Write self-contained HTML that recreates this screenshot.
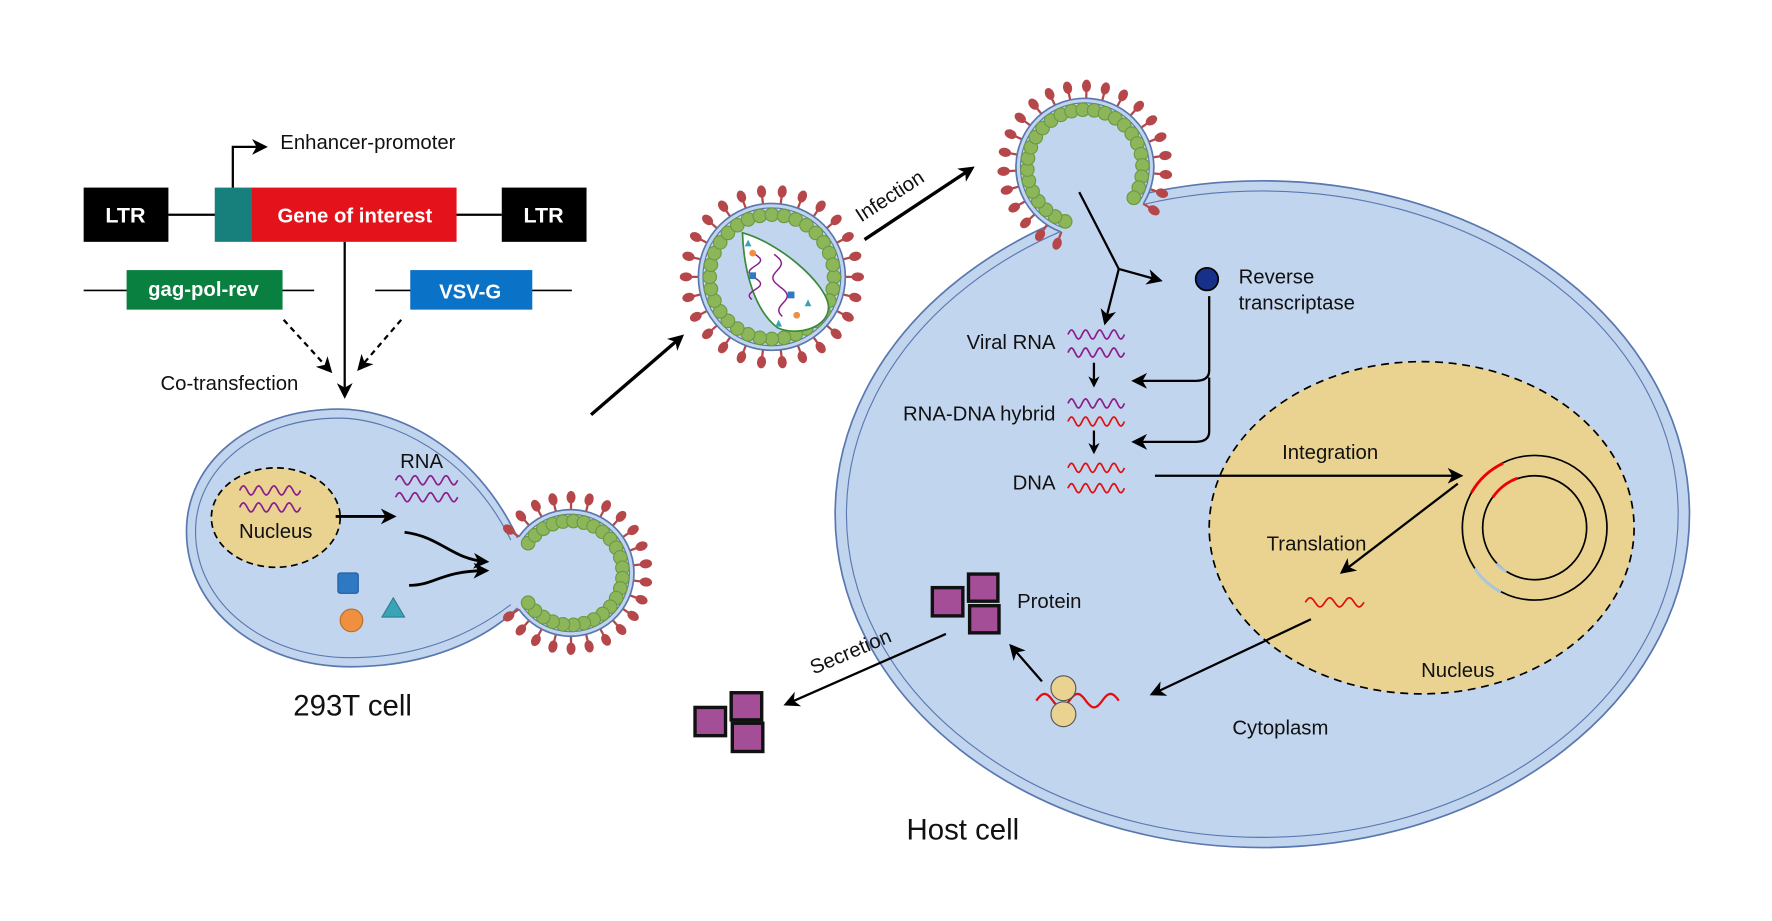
<!DOCTYPE html>
<html><head><meta charset="utf-8"><style>
html,body{margin:0;padding:0;background:#fff}
svg{display:block}
text{font-family:"Liberation Sans",sans-serif;fill:#111}
</style></head><body>
<svg id="s" width="1772" height="921" viewBox="0 0 1568 815" xmlns="http://www.w3.org/2000/svg">
<defs>
<marker id="ah" markerWidth="10" markerHeight="10" refX="8" refY="5" orient="auto" markerUnits="userSpaceOnUse" viewBox="0 0 10 10"><path d="M0,0 L10,5 L0,10 L3,5 z" fill="#000"/></marker>
<marker id="ahb" markerWidth="14" markerHeight="14" refX="11" refY="7" orient="auto" markerUnits="userSpaceOnUse" viewBox="0 0 14 14"><path d="M0,0 L14,7 L0,14 L4,7 z" fill="#000"/></marker>
</defs>
<ellipse cx="1117" cy="455" rx="378" ry="295" fill="#c2d5ee" stroke="#5a78b0" stroke-width="1.5"/>
<ellipse cx="1117" cy="455" rx="368" ry="286" fill="none" stroke="#5a78b0" stroke-width="1"/>
<g id="topv"></g>
<ellipse cx="1258" cy="467" rx="188" ry="147" fill="#ead391" stroke="#000" stroke-width="1.5" stroke-dasharray="7,5"/>
<circle cx="1358" cy="467" r="64" fill="none" stroke="#000" stroke-width="1.5"/>
<circle cx="1358" cy="467" r="46" fill="none" stroke="#000" stroke-width="1.5"/>
<path d="M1302,436 A64,64 0 0 1 1330,410" fill="none" stroke="#e00" stroke-width="2.5"/>
<path d="M1321,440 A46,46 0 0 1 1343,423" fill="none" stroke="#e00" stroke-width="2.5"/>
<path d="M1305,503 A64,64 0 0 0 1328,524" fill="none" stroke="#a9c6e0" stroke-width="2.5"/>
<path d="M1324,499 A46,46 0 0 0 1333,506" fill="none" stroke="#a9c6e0" stroke-width="2.5"/>

<path d="M458,476 C420,395 350,362 300,362 C220,362 165,410 165,470 C165,540 230,590 310,590 C380,590 430,565 458,538" fill="#c2d5ee" stroke="#5a78b0" stroke-width="1.5"/>
<path d="M452,478 C415,402 346,370 300,370 C226,370 173,415 173,470 C173,535 235,582 310,582 C375,582 422,558 452,535" fill="none" stroke="#5a78b0" stroke-width="1"/>
<g id="budv"></g>
<ellipse cx="244" cy="458" rx="57" ry="44" fill="#ead391" stroke="#000" stroke-width="1.5" stroke-dasharray="6,4"/>
<text x="244" y="476" font-size="18" text-anchor="middle">Nucleus</text>
<text x="373" y="414" font-size="18" text-anchor="middle">RNA</text>
<rect x="299" y="507" width="18" height="18" rx="2" fill="#2e78c4" stroke="#1c5c9c"/>
<circle cx="311" cy="549" r="10" fill="#ee9040" stroke="#c06a20"/>
<path d="M338,546 L348,529 L358,546 z" fill="#3aa3b5" stroke="#2a7f90"/>
<line x1="297" y1="457" x2="348" y2="457" stroke="#000" stroke-width="2.5" marker-end="url(#ahb)"/>
<path d="M358,471 C390,475 400,495 430,497" fill="none" stroke="#000" stroke-width="2.5" marker-end="url(#ahb)"/>
<path d="M362,518 C385,518 390,505 430,505" fill="none" stroke="#000" stroke-width="2.5" marker-end="url(#ahb)"/>
<text x="312" y="633" font-size="26" text-anchor="middle">293T cell</text>

<line x1="149" y1="190" x2="444" y2="190" stroke="#000" stroke-width="2"/>
<rect x="74" y="166" width="75" height="48" fill="#000"/>
<text x="111" y="197" font-size="19" font-weight="bold" text-anchor="middle" style="fill:#fff">LTR</text>
<rect x="444" y="166" width="75" height="48" fill="#000"/>
<text x="481" y="197" font-size="19" font-weight="bold" text-anchor="middle" style="fill:#fff">LTR</text>
<rect x="190" y="166" width="34" height="48" fill="#177f7c"/>
<rect x="223" y="166" width="181" height="48" fill="#e4131b"/>
<text x="314" y="197" font-size="18" font-weight="bold" text-anchor="middle" style="fill:#fff">Gene of interest</text>
<path d="M206,166 V130 H234" fill="none" stroke="#000" stroke-width="2" marker-end="url(#ahb)"/>
<text x="248" y="132" font-size="18">Enhancer-promoter</text>
<line x1="74" y1="257" x2="278" y2="257" stroke="#000" stroke-width="1.5"/>
<rect x="112" y="239" width="138" height="35" fill="#0a8040"/>
<text x="180" y="262" font-size="18" font-weight="bold" text-anchor="middle" style="fill:#fff">gag-pol-rev</text>
<line x1="332" y1="257" x2="506" y2="257" stroke="#000" stroke-width="1.5"/>
<rect x="363" y="239" width="108" height="35" fill="#0a72c7"/>
<text x="416" y="264" font-size="18" font-weight="bold" text-anchor="middle" style="fill:#fff">VSV-G</text>
<line x1="305" y1="214" x2="305" y2="350" stroke="#000" stroke-width="2" marker-end="url(#ahb)"/>
<line x1="251" y1="283" x2="292" y2="328" stroke="#000" stroke-width="2" stroke-dasharray="5,4" marker-end="url(#ahb)"/>
<line x1="355" y1="283" x2="318" y2="326" stroke="#000" stroke-width="2" stroke-dasharray="5,4" marker-end="url(#ahb)"/>
<text x="142" y="345" font-size="18">Co-transfection</text>

<g id="freev"></g>
<path d="M657,206 C690,215 730,250 733,270 C735,290 705,298 688,290 C668,275 658,240 657,206 z" fill="#fff" stroke="#3a8a3a" stroke-width="1.5"/>
<g id="inner"></g>

<line x1="523" y1="367" x2="603" y2="298" stroke="#000" stroke-width="3" marker-end="url(#ahb)"/>
<line x1="765" y1="212" x2="860" y2="149" stroke="#000" stroke-width="3" marker-end="url(#ahb)"/>
<text x="0" y="0" font-size="18" transform="translate(762,197) rotate(-33)">Infection</text>

<path d="M955,170 L990,238 L978,285" fill="none" stroke="#000" stroke-width="2" marker-end="url(#ahb)"/>
<line x1="990" y1="238" x2="1026" y2="248" stroke="#000" stroke-width="2" marker-end="url(#ahb)"/>
<circle cx="1068" cy="247" r="10" fill="#17318a" stroke="#000" stroke-width="1.5"/>
<text x="1096" y="251" font-size="18">Reverse</text>
<text x="1096" y="274" font-size="18">transcriptase</text>
<path d="M1070,262 V328 Q1070,337 1058,337 H1004" fill="none" stroke="#000" stroke-width="2" marker-end="url(#ahb)"/>
<path d="M1070,334 V382 Q1070,391 1058,391 H1004" fill="none" stroke="#000" stroke-width="2" marker-end="url(#ahb)"/>
<text x="934" y="309" font-size="18" text-anchor="end">Viral RNA</text>
<text x="934" y="372" font-size="18" text-anchor="end">RNA-DNA hybrid</text>
<text x="934" y="433" font-size="18" text-anchor="end">DNA</text>
<line x1="968" y1="321" x2="968" y2="341" stroke="#000" stroke-width="2" marker-end="url(#ah)"/>
<line x1="968" y1="381" x2="968" y2="400" stroke="#000" stroke-width="2" marker-end="url(#ah)"/>
<g id="waves"></g>
<line x1="1022" y1="421" x2="1292" y2="421" stroke="#000" stroke-width="2" marker-end="url(#ahb)"/>
<text x="1177" y="406" font-size="18" text-anchor="middle">Integration</text>
<line x1="1290" y1="428" x2="1188" y2="506" stroke="#000" stroke-width="2" marker-end="url(#ahb)"/>
<text x="1165" y="487" font-size="18" text-anchor="middle">Translation</text>
<text x="1290" y="599" font-size="18" text-anchor="middle">Nucleus</text>
<line x1="1160" y1="548" x2="1020" y2="614" stroke="#000" stroke-width="2" marker-end="url(#ahb)"/>
<text x="1133" y="650" font-size="18" text-anchor="middle">Cytoplasm</text>
<circle cx="941" cy="609" r="11" fill="#ead391" stroke="#555"/>
<circle cx="941" cy="632" r="11" fill="#ead391" stroke="#555"/>
<line x1="922" y1="603" x2="895" y2="572" stroke="#000" stroke-width="2" marker-end="url(#ahb)"/>
<g fill="#a54e98" stroke="#111" stroke-width="3">
<rect x="825" y="520" width="27" height="25"/><rect x="857" y="508" width="26" height="24"/><rect x="858" y="536" width="26" height="24"/>
<rect x="615" y="626" width="27" height="25"/><rect x="647" y="613" width="27" height="24"/><rect x="648" y="640" width="27" height="25"/>
</g>
<text x="900" y="538" font-size="18">Protein</text>
<line x1="837" y1="561" x2="696" y2="623" stroke="#000" stroke-width="2" marker-end="url(#ahb)"/>
<text x="0" y="0" font-size="18" transform="translate(720,597) rotate(-23)">Secretion</text>
<text x="852" y="743" font-size="26" text-anchor="middle">Host cell</text>
</svg>
<script>
var NS="http://www.w3.org/2000/svg";
function el(p,t,a){var e=document.createElementNS(NS,t);for(var k in a)e.setAttribute(k,a[k]);p.appendChild(e);return e;}
function rad(d){return d*Math.PI/180;}
function virus(g,cx,cy,R,a0,a1,nSp,nB,full){
  g=document.getElementById(g);
  var pt=function(r,a){return [cx+r*Math.cos(rad(a)),cy+r*Math.sin(rad(a))];};
  for(var i=0;i<nSp;i++){var a=a0+(a1-a0)*(full?i/nSp:i/(nSp-1));
    var p1=pt(R+2,a),p2=pt(R+11,a),p3=pt(R+14,a);
    el(g,'line',{x1:p1[0],y1:p1[1],x2:p2[0],y2:p2[1],stroke:'#b5474b','stroke-width':2});
    el(g,'ellipse',{cx:p3[0],cy:p3[1],rx:5.5,ry:4,fill:'#b5474b',transform:'rotate('+a+' '+p3[0]+' '+p3[1]+')'});
  }
  if(full){el(g,'circle',{cx:cx,cy:cy,r:R+3,fill:'#c2d5ee',stroke:'#5a78b0','stroke-width':1.5});
    el(g,'circle',{cx:cx,cy:cy,r:R-1,fill:'none',stroke:'#5a78b0','stroke-width':1});}
  else{var s=pt(R+3,a0),e=pt(R+3,a1),big=((a1-a0)>180)?1:0;
    el(g,'circle',{cx:cx,cy:cy,r:R+3,fill:'#c2d5ee',stroke:'none'});
    el(g,'path',{d:'M'+s[0]+','+s[1]+' A'+(R+3)+','+(R+3)+' 0 '+big+' 1 '+e[0]+','+e[1],fill:'none',stroke:'#5a78b0','stroke-width':1.5});
    var s2=pt(R-1,a0),e2=pt(R-1,a1);
    el(g,'path',{d:'M'+s2[0]+','+s2[1]+' A'+(R-1)+','+(R-1)+' 0 '+big+' 1 '+e2[0]+','+e2[1],fill:'none',stroke:'#5a78b0','stroke-width':1});}
  for(var i=0;i<nB;i++){var a=a0+(a1-a0)*(full?i/nB:i/(nB-1));var p=pt(R-7,a);
    el(g,'circle',{cx:p[0],cy:p[1],r:6,fill:'#8db65a',stroke:'#6a9a40','stroke-width':1});}
}
virus('freev',683,245,62,0,360,26,32,true);
virus('budv',505,507,53,-145,145,22,26,false);
virus('topv',960,148,58,-250,32,22,26,false);
function wave(g,x1,x2,y,amp,per,col,w){g=document.getElementById(g);var d='',n=80;
  for(var i=0;i<=n;i++){var x=x1+(x2-x1)*i/n;var yy=y-amp*Math.sin(2*Math.PI*per*i/n);d+=(i?'L':'M')+x.toFixed(1)+','+yy.toFixed(1);}
  el(g,'path',{d:d,fill:'none',stroke:col,'stroke-width':w||1.5});}
wave('waves',945,995,296,4,4,'#8a1f8c');wave('waves',945,995,312,4,4,'#8a1f8c');
wave('waves',945,995,357,4,4,'#8a1f8c');wave('waves',945,995,373,4,4,'#e01010');
wave('waves',945,995,414,4,4,'#e01010');wave('waves',945,995,432,4,4,'#e01010');
wave('waves',1155,1207,533,4,3,'#e01010');
wave('waves',917,990,620,6,2.5,'#e01010',2);
wave('waves',212,266,434,4,4,'#8a1f8c');wave('waves',212,266,449,4,4,'#8a1f8c');
wave('waves',350,405,425,4,4,'#8a1f8c');wave('waves',350,405,440,4,4,'#8a1f8c');
var ig=document.getElementById('inner');
var d='';for(var i=0;i<=40;i++){var t=i/40;d+=(i?'L':'M')+(668+5*Math.sin(t*12)).toFixed(1)+','+(225+t*40).toFixed(1);}
el(ig,'path',{d:d,fill:'none',stroke:'#8a1f8c','stroke-width':1.3});
d='';for(var i=0;i<=40;i++){var t=i/40;d+=(i?'L':'M')+(685+5*Math.sin(t*12)+t*10).toFixed(1)+','+(225+t*55).toFixed(1);}
el(ig,'path',{d:d,fill:'none',stroke:'#8a1f8c','stroke-width':1.3});
el(ig,'rect',{x:663,y:241,width:6,height:6,fill:'#2e78c4'});el(ig,'rect',{x:697,y:258,width:6,height:6,fill:'#2e78c4'});
el(ig,'circle',{cx:666,cy:224,r:3,fill:'#ee9040'});el(ig,'circle',{cx:705,cy:279,r:3,fill:'#ee9040'});
el(ig,'path',{d:'M659,218 L662,212 L665,218z',fill:'#3aa3b5'});el(ig,'path',{d:'M712,271 L715,265 L718,271z',fill:'#3aa3b5'});
el(ig,'path',{d:'M686,289 L689,283 L692,289z',fill:'#3aa3b5'});
</script>
</body></html>
